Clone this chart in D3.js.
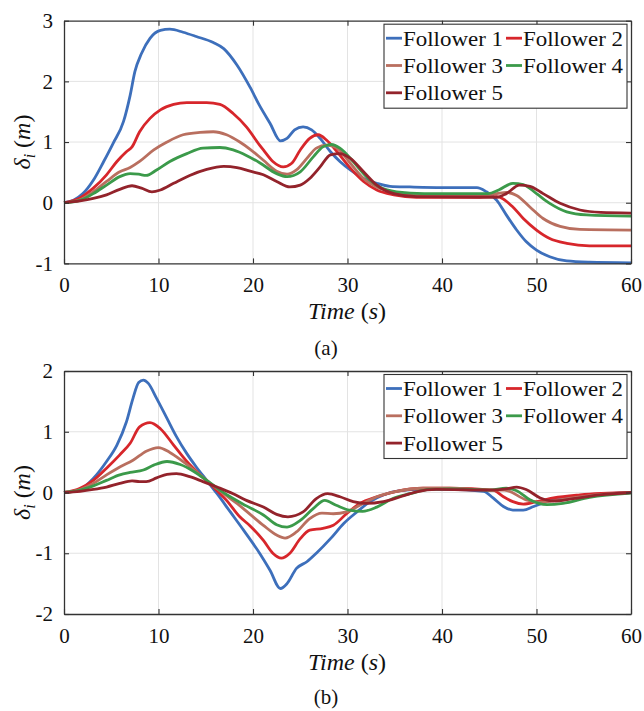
<!DOCTYPE html>
<html>
<head>
<meta charset="utf-8">
<script src="https://cdn.jsdelivr.net/npm/d3@7"></script>
<style>
  body { margin: 0; background: #fff; }
</style>
</head>
<body>
<svg id="canvas" width="644" height="711"></svg>
<script>
// ---- data: [time (s), delta (m)] ----
var names = ['Follower 1', 'Follower 2', 'Follower 3', 'Follower 4', 'Follower 5'];
var colors = ['#3d6fbb', '#d7262b', '#b96f5f', '#3b9a4a', '#93232b'];
var xTicks = [0, 10, 20, 30, 40, 50, 60];
var yTicksA = [-1, 0, 1, 2, 3];
var yTicksB = [-2, -1, 0, 1, 2];
var SERIF = '"Liberation Serif", "DejaVu Serif", serif';

// panel (a)
var a_f1 = [[0,0],[1,0.04],[2,0.15],[3.1,0.37],[4.2,0.68],[5.2,0.98],[6.3,1.34],[7,1.77],[7.5,2.16],[8.2,2.46],[9.1,2.71],[10.2,2.84],[11.2,2.86],[12.6,2.81],[14,2.74],[15.8,2.64],[16.9,2.54],[18.3,2.27],[19.7,1.9],[20.7,1.6],[21.8,1.31],[22.9,1.02],[23.6,1.06],[24.4,1.2],[25.3,1.25],[26.2,1.2],[27.1,1.06],[28.2,0.84],[29.2,0.68],[30.3,0.54],[31.7,0.40],[33.1,0.32],[34.5,0.27],[36.6,0.26],[40,0.25],[43.7,0.25],[44.7,0.18],[45.8,0.04],[46.8,-0.2],[47.9,-0.45],[48.9,-0.64],[50,-0.78],[51.4,-0.89],[53.2,-0.96],[55.6,-0.98],[60,-0.99]];
var a_f2 = [[0,0],[1.7,0.08],[3.1,0.24],[4.5,0.46],[5.6,0.68],[6.6,0.84],[7.2,0.92],[8,1.17],[9.1,1.39],[10.2,1.53],[11.6,1.62],[13,1.65],[15.1,1.65],[16.5,1.62],[17.9,1.47],[19.3,1.25],[20.7,0.95],[21.1,0.87],[22.1,0.68],[23.2,0.59],[24.1,0.65],[25,0.87],[26,1.06],[26.9,1.12],[27.8,1.03],[28.9,0.84],[30.3,0.57],[31.7,0.35],[33.1,0.21],[34.9,0.13],[37.3,0.09],[44,0.09],[45.8,0.1],[47.5,-0.07],[48.6,-0.26],[50,-0.45],[51.4,-0.59],[53.2,-0.67],[55.6,-0.71],[60,-0.71]];
var a_f3 = [[0,0],[1.7,0.05],[3.1,0.18],[4.5,0.35],[5.9,0.51],[7,0.58],[8,0.68],[9.5,0.87],[10.9,1.0],[12.6,1.12],[14.4,1.16],[15.8,1.17],[17.2,1.12],[18.6,1.0],[19.7,0.88],[21.1,0.70],[22.5,0.52],[23.6,0.47],[24.6,0.54],[25.7,0.73],[26.7,0.9],[27.8,0.95],[28.9,0.9],[30.3,0.65],[31.7,0.40],[33.1,0.26],[34.9,0.17],[37,0.13],[44,0.12],[45.8,0.15],[46.8,0.17],[47.9,0.12],[49.3,-0.07],[50.7,-0.26],[52.5,-0.39],[54.6,-0.44],[60,-0.45]];
var a_f4 = [[0,0],[1.7,0.04],[3.1,0.15],[4.5,0.29],[5.9,0.43],[7,0.48],[7.9,0.47],[8.7,0.45],[9.8,0.54],[11.2,0.68],[13,0.81],[14.7,0.90],[16.5,0.91],[17.9,0.87],[19.3,0.78],[20.7,0.66],[22.5,0.48],[23.6,0.43],[25,0.51],[26.4,0.76],[27.4,0.92],[28.3,0.96],[29.2,0.9],[30.6,0.68],[32,0.43],[33.4,0.26],[35.2,0.18],[38.1,0.15],[44.9,0.15],[46,0.21],[47.5,0.32],[48.6,0.3],[50,0.15],[51.4,-0.01],[53.2,-0.15],[55.3,-0.2],[60,-0.22]];
var a_f5 = [[0,0],[1.7,0.03],[3.1,0.07],[4.5,0.13],[5.9,0.22],[7.2,0.28],[8.2,0.24],[9.3,0.18],[10.2,0.21],[11.6,0.32],[13.3,0.45],[15.1,0.55],[16.9,0.6],[18.3,0.58],[19.7,0.52],[21.1,0.46],[22.5,0.35],[23.9,0.26],[25,0.29],[26,0.40],[27.1,0.59],[28.2,0.79],[29.2,0.81],[30.3,0.73],[31.7,0.51],[33.1,0.29],[34.9,0.15],[37.3,0.1],[45.8,0.09],[46.8,0.15],[48.2,0.29],[49.3,0.27],[50.7,0.15],[52.5,-0.01],[54.6,-0.12],[56.8,-0.16],[60,-0.17]];

// panel (b)
var b_f1 = [[0,0],[1.7,0.05],[3.1,0.23],[4.5,0.51],[5.6,0.78],[6.6,1.16],[7.3,1.55],[7.9,1.81],[8.4,1.85],[8.9,1.8],[9.8,1.55],[10.9,1.22],[11.9,0.92],[13,0.64],[14,0.42],[15.1,0.2],[16.2,-0.02],[17.6,-0.32],[19,-0.62],[20.7,-1.0],[21.8,-1.28],[22.9,-1.58],[23.6,-1.5],[24.6,-1.25],[25.7,-1.14],[26.7,-1.0],[28.2,-0.76],[29.6,-0.51],[31,-0.32],[32.4,-0.15],[33.8,-0.04],[35.6,0.03],[38,0.05],[40.8,0.05],[44.4,0.02],[45.4,-0.09],[46.5,-0.23],[47.5,-0.29],[48.6,-0.29],[49.7,-0.23],[51.4,-0.14],[53.9,-0.07],[56.7,-0.03],[60,0]];
var b_f2 = [[0,0],[1.7,0.07],[3.1,0.2],[4.5,0.4],[5.9,0.62],[7,0.81],[8,1.08],[9.1,1.15],[10.2,1.05],[11.6,0.78],[13,0.51],[14.4,0.29],[15.8,0.09],[17.2,-0.13],[18.6,-0.4],[19.7,-0.55],[21.1,-0.79],[22.1,-1.0],[23,-1.08],[23.9,-1.0],[25,-0.76],[26,-0.62],[27.4,-0.59],[28.5,-0.54],[29.9,-0.35],[31.3,-0.18],[33.1,-0.07],[35.2,0.02],[38,0.07],[40.8,0.07],[45.4,0.04],[46.5,-0.07],[47.5,-0.15],[48.6,-0.19],[50,-0.15],[51.8,-0.09],[54.6,-0.04],[60,0]];
var b_f3 = [[0,0],[1.7,0.05],[3.1,0.15],[4.5,0.29],[5.9,0.42],[7.3,0.53],[8.7,0.68],[10,0.74],[11.2,0.66],[12.6,0.51],[14,0.34],[15.5,0.15],[16.9,-0.02],[18.3,-0.18],[19.7,-0.36],[21.1,-0.54],[22.5,-0.7],[23.4,-0.75],[24.6,-0.65],[26,-0.43],[27.3,-0.34],[28.5,-0.35],[29.9,-0.32],[31.3,-0.21],[33.1,-0.07],[35.2,0.02],[38,0.07],[40.8,0.07],[45.4,0.04],[46.6,0.04],[48.9,-0.12],[50.4,-0.16],[52.5,-0.12],[55.6,-0.05],[60,0]];
var b_f4 = [[0,0],[1.7,0.04],[3.1,0.11],[4.5,0.2],[5.9,0.29],[7,0.33],[8.4,0.37],[9.5,0.45],[10.9,0.51],[12.3,0.46],[13.7,0.35],[15.1,0.2],[16.5,0.04],[17.9,-0.1],[19.3,-0.22],[21.1,-0.37],[22.5,-0.53],[23.6,-0.57],[25,-0.46],[26.4,-0.26],[27.6,-0.13],[28.8,-0.21],[30.2,-0.29],[31.6,-0.31],[33.1,-0.24],[34.8,-0.1],[36.6,-0.02],[38.7,0.05],[41,0.06],[45,0.04],[46.8,0.07],[47.9,0.03],[49.3,-0.12],[51.1,-0.2],[52.8,-0.18],[55.6,-0.08],[60,-0.01]];
var b_f5 = [[0,0],[1.7,0.02],[3.1,0.05],[4.5,0.09],[5.9,0.15],[7.2,0.19],[8,0.18],[8.7,0.18],[9.8,0.24],[10.9,0.3],[11.9,0.31],[13.3,0.26],[14.7,0.18],[16.2,0.09],[17.9,-0.02],[19.3,-0.13],[21.1,-0.24],[22.5,-0.36],[23.7,-0.4],[25.3,-0.32],[26.7,-0.1],[27.9,-0.02],[29.2,-0.07],[30.6,-0.15],[32,-0.18],[33.8,-0.15],[35.6,-0.07],[37.3,0.01],[39.4,0.05],[45,0.04],[46.8,0.06],[47.9,0.09],[48.9,0.05],[50.4,-0.09],[51.8,-0.14],[53.9,-0.1],[56.7,-0.04],[60,0]];

var svg = d3.select('#canvas');

// ************************************************************************************** //
// one panel

function panel(top, bottom, yDomain, yTicks, series, caption, capY) {
  var left = 64, right = 631;
  var x = d3.scaleLinear().domain([0, 60]).range([left, right]);
  var y = d3.scaleLinear().domain(yDomain).range([bottom, top]);
  var g = svg.append('g').attr('font-family', SERIF).attr('fill', '#111');

  // grid
  g.append('g').selectAll('line').data(xTicks.slice(1, -1)).join('line')
    .attr('x1', d => x(d)).attr('x2', d => x(d)).attr('y1', top).attr('y2', bottom)
    .attr('stroke', '#e3e3e3').attr('stroke-width', 1);
  g.append('g').selectAll('line').data(yTicks.slice(1, -1)).join('line')
    .attr('x1', left).attr('x2', right).attr('y1', d => y(d)).attr('y2', d => y(d))
    .attr('stroke', '#e3e3e3').attr('stroke-width', 1);

  // curves
  var line = d3.line().x(d => x(d[0])).y(d => y(d[1])).curve(d3.curveMonotoneX);
  series.forEach(function(s, i) {
    g.append('path').datum(s).attr('d', line)
      .attr('fill', 'none').attr('stroke', colors[i]).attr('stroke-width', 2.8)
      .attr('stroke-linejoin', 'round');
  });

  // axes, ticks pointing in, box on
  var fmt = d => d < 0 ? '-' + Math.abs(d) : String(d);
  var xb = g.append('g').attr('transform', 'translate(0,' + bottom + ')')
    .call(d3.axisBottom(x).tickValues(xTicks).tickSizeInner(-5).tickSizeOuter(0).tickPadding(11).tickFormat(fmt));
  var xt = g.append('g').attr('transform', 'translate(0,' + top + ')')
    .call(d3.axisTop(x).tickValues(xTicks).tickSizeInner(-5).tickSizeOuter(0).tickFormat(''));
  var yl = g.append('g').attr('transform', 'translate(' + left + ',0)')
    .call(d3.axisLeft(y).tickValues(yTicks).tickSizeInner(-5).tickSizeOuter(0).tickPadding(11).tickFormat(fmt));
  var yr = g.append('g').attr('transform', 'translate(' + right + ',0)')
    .call(d3.axisRight(y).tickValues(yTicks).tickSizeInner(-5).tickSizeOuter(0).tickFormat(''));
  [xb, xt, yl, yr].forEach(function(a) {
    a.attr('font-family', SERIF).attr('font-size', 21);
    a.select('.domain').attr('stroke', '#333').attr('stroke-width', 1.3);
    a.selectAll('.tick line').attr('stroke', '#333').attr('stroke-width', 1.1);
    a.selectAll('.tick text').attr('fill', '#111');
  });
  xb.selectAll('.tick text').attr('dy', '0.85em');
  yl.selectAll('.tick text').attr('dy', '0.32em');

  // axis labels
  var xl = g.append('text').attr('x', 347).attr('y', bottom + 56)
    .attr('text-anchor', 'middle').attr('font-size', 24).attr('font-style', 'italic');
  xl.append('tspan').text('Time ');
  xl.append('tspan').attr('font-style', 'normal').text('(');
  xl.append('tspan').text('s');
  xl.append('tspan').attr('font-style', 'normal').text(')');

  var yc = (top + bottom) / 2;
  var ylab = g.append('text').attr('transform', 'translate(30,' + yc + ') rotate(-90)')
    .attr('text-anchor', 'middle').attr('font-size', 24).attr('font-style', 'italic');
  ylab.append('tspan').text('δ');
  ylab.append('tspan').attr('dy', 5).attr('font-size', 16).text('i');
  ylab.append('tspan').attr('dy', -5).attr('font-style', 'normal').text(' (');
  ylab.append('tspan').text('m');
  ylab.append('tspan').attr('font-style', 'normal').text(')');

  // caption
  g.append('text').attr('x', 326).attr('y', capY).attr('text-anchor', 'middle')
    .attr('font-size', 21).text(caption);

  // legend
  var lx = 384, ly = top + 3.5, lw = 243, lh = 84;
  var lg = g.append('g');
  lg.append('rect').attr('x', lx).attr('y', ly).attr('width', lw).attr('height', lh)
    .attr('fill', '#fff').attr('stroke', '#333').attr('stroke-width', 1.1);
  var pos = [[0, 0], [1, 0], [0, 1], [1, 1], [0, 2]];
  names.forEach(function(n, i) {
    var cx = lx + 2 + pos[i][0] * 120, cy = ly + 14 + pos[i][1] * 27.3;
    lg.append('line').attr('x1', cx).attr('x2', cx + 16).attr('y1', cy).attr('y2', cy)
      .attr('stroke', colors[i]).attr('stroke-width', 2.8);
    lg.append('text').attr('x', cx + 17).attr('y', cy + 7.5)
      .attr('textLength', 100).attr('lengthAdjust', 'spacingAndGlyphs')
      .attr('font-size', 21).text(n);
  });
}

panel(20.7, 263.4, [-1, 3], yTicksA, [a_f1, a_f2, a_f3, a_f4, a_f5], '(a)', 355);
panel(371, 614, [-2, 2], yTicksB, [b_f1, b_f2, b_f3, b_f4, b_f5], '(b)', 704);
</script>
</body>
</html>
